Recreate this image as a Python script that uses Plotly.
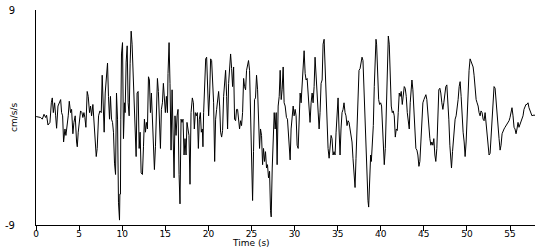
import plotly.graph_objects as go

# ---- data (time in s, acceleration in cm/s/s) ----
t1 = [0.02,0.54,0.73,0.93,1.12,1.23,1.39,1.62,1.78,1.89,2.01,2.16,2.28,2.39,2.55,2.70,2.86,2.97,3.09,3.20,3.36,3.47,3.63,3.74,3.86,4.01,4.13,4.28,4.40,4.55,4.71,4.79,4.90,5.06,5.17,5.33,5.44,5.56,5.67,5.79,5.94,6.06,6.21,6.33,6.45,6.60,6.72,6.83,6.99,7.10,7.26,7.41,7.57,7.68,7.80,7.91,8.03,8.18,8.30,8.41,8.53,8.64,8.76,8.88,8.99,9.11,9.23,9.34,9.46,9.57,9.69]
a1 = [0.08,0.0,-0.14,0.27,0.0,0.19,-0.63,-0.41,1.23,1.64,0.41,1.23,0.14,-0.9,0.96,1.23,1.5,0.41,0.14,-2.05,-0.96,-1.5,-0.68,0.14,1.36,0.41,0.68,-1.36,-0.41,0.14,-2.05,-2.45,-1.23,-0.27,0.55,0.41,0.0,0.41,0.0,-0.82,2.18,1.77,0.41,0.96,0.14,1.09,-0.41,-1.77,-3.27,-2.59,0.14,0.55,0.41,3.54,1.5,-1.23,2.05,3.68,4.56,1.77,-0.14,1.77,-0.14,-0.41,-1.23,-3.82,-4.77,2.05,-0.14,-7.09,-8.59]

t2 = [9.73,9.80,9.84,9.92,10.04,10.15,10.27,10.34,10.46,10.58,10.69,10.81,10.92,11.04,11.15,11.27,11.39,11.50,11.62,11.73,11.85,11.97,12.08,12.20,12.35,12.47,12.58,12.70,12.81,12.93,13.05,13.16,13.28,13.39,13.51,13.63,13.74,13.86,13.97,14.09,14.20,14.32,14.44,14.55,14.67,14.78,14.90,15.01,15.13,15.25,15.32,15.44,15.55,15.67,15.79,15.90,16.02,16.13,16.25,16.37,16.48,16.60,16.71,16.83,16.94,17.06,17.18,17.29,17.41,17.52,17.64,17.75,17.87,17.99,18.14,18.26,18.37,18.49,18.60,18.72,18.84,18.95,19.07,19.18,19.30,19.37]
a2 = [-6.41,-6.41,-0.14,5.32,6.27,-1.77,1.23,0.41,4.64,6.0,1.23,0.14,4.5,7.23,6.14,3.82,1.23,-1.77,-3.27,2.05,2.18,-2.59,-1.23,-4.64,-4.77,-2.45,-0.14,-1.23,-0.41,-0.96,3.41,3.14,0.41,2.05,0.14,-1.77,-4.36,-2.45,1.77,3.27,2.18,0.41,-2.59,0.68,1.23,2.86,1.23,0.41,1.77,0.41,3.68,6.27,2.86,-2.73,2.32,-2.86,-5.05,0.14,-1.5,0.14,0.68,-4.77,-7.23,-0.14,-0.41,-0.14,-3.14,-1.77,-3.14,-0.41,-0.96,-1.5,-5.59,0.41,1.64,1.23,-0.96,0.41,0.14,0.41,-2.59,-0.14,0.41,-1.23,-0.96,-2.45]

t3 = [19.45,19.57,19.69,19.80,19.92,20.03,20.15,20.26,20.38,20.50,20.61,20.73,20.84,20.96,21.07,21.19,21.31,21.42,21.54,21.65,21.77,21.88,22.00,22.12,22.23,22.35,22.46,22.58,22.70,22.81,22.93,23.04,23.16,23.27,23.39,23.51,23.62,23.74,23.85,23.97,24.09,24.20,24.32,24.43,24.55,24.66,24.78,24.90,25.01,25.13,25.24,25.36,25.47,25.59,25.71,25.82,25.94,26.05,26.17,26.29,26.40,26.52,26.63,26.75,26.86,26.98,27.10,27.21,27.29,27.41,27.52,27.64,27.75,27.87,27.98,28.10,28.22,28.33,28.45,28.56,28.68,28.79,28.91]
a3 = [0.41,2.86,4.91,5.05,2.59,0.14,2.05,4.91,4.77,2.05,1.23,-3.68,-0.14,0.68,1.23,2.18,0.96,-1.23,-1.64,-1.09,1.77,3.41,3.95,1.77,-0.96,2.86,4.5,5.32,4.09,2.59,4.23,-0.14,-0.27,0.68,0.68,-0.14,-0.96,-0.27,-0.68,0.41,3.27,2.59,2.32,3.95,4.36,4.77,3.95,0.41,-3.95,-6.95,-2.86,1.5,1.64,3.54,2.32,-0.96,-2.59,-0.96,-1.5,-3.95,-2.59,-3.68,-2.86,-4.23,-3.95,-5.05,-4.5,-7.77,-8.32,-4.23,-2.59,0.41,-0.96,0.41,-3.95,0.96,1.77,3.95,1.5,2.32,4.23,1.23,0.96]

t4 = [29.06,29.18,29.30,29.41,29.49,29.60,29.72,29.84,29.95,30.07,30.18,30.30,30.42,30.53,30.65,30.76,30.88,30.99,31.11,31.23,31.34,31.46,31.57,31.69,31.80,31.92,32.04,32.15,32.27,32.38,32.50,32.62,32.73,32.85,32.96,33.08,33.20,33.31,33.43,33.54,33.66,33.77,33.89,34.01,34.12,34.24,34.35,34.47,34.58,34.70,34.82,34.93,35.05,35.16,35.28,35.39,35.51,35.63,35.74,35.86,35.97,36.09,36.21,36.32,36.44,36.55,36.67,36.78,36.90,37.02,37.13,37.25,37.36,37.48,37.60,37.71,37.83,37.94,38.06,38.17,38.29,38.41,38.52,38.60,38.72,38.83]
a4 = [0.0,-0.14,-1.5,-2.32,-3.55,-0.96,0.41,0.96,0.14,0.68,0.14,-2.32,-2.59,0.14,2.05,1.23,2.86,4.5,5.59,3.68,3.14,3.27,2.32,0.68,-0.41,1.23,2.05,1.23,2.59,5.05,3.41,1.23,0.68,-0.96,0.41,2.86,3.14,6.14,6.55,3.95,1.5,-1.36,-2.59,-3.41,-2.59,-1.5,-1.77,-3.14,-2.86,-3.14,-1.23,0.96,1.64,-0.96,-3.14,-0.96,0.41,0.68,1.23,0.41,0.14,-0.68,-0.27,-0.41,-0.96,-1.5,-2.05,-3.41,-4.77,-5.86,-3.41,-0.96,1.77,3.95,4.09,4.5,5.05,4.77,2.32,-0.68,-2.32,-4.23,-6.95,-7.5,-4.23,-3.14]

t5 = [38.91,39.02,39.14,39.25,39.37,39.45,39.52,39.64,39.76,39.87,39.99,40.10,40.22,40.33,40.41,40.53,40.64,40.76,40.88,40.99,41.11,41.22,41.34,41.45,41.57,41.69,41.80,41.92,42.03,42.15,42.26,42.38,42.50,42.61,42.73,42.84,42.96,43.08,43.19,43.31,43.42,43.54,43.62,43.73,43.85,43.96,44.08,44.20,44.31,44.43,44.54,44.66,44.77,44.89,45.01,45.12,45.24,45.35,45.47,45.58,45.70,45.82,45.93,46.05,46.16,46.28,46.39,46.51,46.63,46.74,46.86,46.97,47.09,47.21,47.32,47.44,47.55,47.67,47.78,47.90,48.02,48.13,48.21,48.33,48.44,48.56]
a5 = [-3.68,-2.59,-0.68,2.59,5.05,6.55,6.14,3.95,1.5,1.09,1.23,0.96,-1.5,-3.68,-3.95,-2.59,0.41,3.95,6.82,6.14,3.95,0.96,0.41,0.55,0.14,-1.64,-0.96,-1.09,0.41,2.05,1.77,2.18,1.09,1.77,2.59,2.45,1.77,0.41,-0.14,-0.96,1.23,2.86,3.14,2.32,0.14,-1.77,-2.59,-2.73,-3.14,-4.09,-3.68,-2.05,-0.14,1.23,1.5,1.77,1.91,1.5,0.14,-0.68,-1.77,-2.32,-2.05,-2.32,-1.77,-3.14,-3.68,-2.59,0.14,2.32,2.45,2.05,1.23,0.68,1.23,2.32,2.59,2.73,1.5,-0.14,-2.32,-3.41,-4.23,-2.86,-1.5,-0.96]

t6 = [48.63,48.75,48.87,48.98,49.10,49.21,49.33,49.44,49.56,49.68,49.79,49.91,50.02,50.14,50.25,50.37,50.49,50.60,50.72,50.83,50.95,51.07,51.18,51.30,51.41,51.53,51.64,51.76,51.88,51.99,52.11,52.22,52.34,52.46,52.57,52.69,52.80,52.92,53.03,53.15,53.27,53.38,53.50,53.61,53.73,53.85,53.96,54.08,54.19,54.31,54.42,54.54,54.66,54.77,54.89,55.00,55.12,55.23,55.35,55.47,55.58,55.70,55.81,55.93,56.04,56.16,56.28,56.39,56.51,56.62,56.74,56.85,56.97,57.09,57.20,57.32,57.43,57.55,57.66,57.90]
a6 = [-0.14,0.14,0.68,1.5,2.59,3.0,1.77,-0.14,-1.23,-2.05,-3.27,-2.05,0.14,1.77,3.95,4.91,4.64,4.36,4.23,3.54,2.32,1.5,1.23,0.96,0.41,0.14,0.55,0.41,-0.14,-0.27,0.41,-0.41,-1.5,-2.45,-3.14,-3.0,-1.77,-0.14,1.23,2.59,2.45,1.23,0.41,-0.68,-1.77,-2.73,-2.32,-1.36,-1.09,-0.96,-0.82,-0.68,-0.55,-0.41,-0.27,0.0,0.41,0.82,0.14,-0.82,-0.96,-1.36,-0.96,-0.41,-0.82,-0.55,-0.41,-0.14,0.14,0.68,0.96,1.09,1.09,1.23,0.82,0.55,0.27,0.14,0.19,0.19]

x_ticks = [0, 5, 10, 15, 20, 25, 30, 35, 40, 45, 50, 55]
y_ticks = [-9, 9]
y_tick_labels = ["-9", "9"]
x_title = "Time (s)"
y_title = "cm/s/s"

t = t1 + t2 + t3 + t4 + t5 + t6
acc = a1 + a2 + a3 + a4 + a5 + a6

FONT = dict(family="DejaVu Sans", size=10, color="#000000")
TICK_FONT = dict(family="DejaVu Sans", size=9, color="#000000")
TITLE_FONT = dict(family="DejaVu Sans", size=9, color="#000000")

fig = go.Figure()
fig.add_trace(go.Scatter(x=t, y=acc, mode="lines",
                         line=dict(color="#000000", width=1),
                         hoverinfo="skip", showlegend=False))

fig.update_layout(
    width=550, height=250,
    margin=dict(l=35, r=15, t=5, b=25, pad=0),
    paper_bgcolor="#ffffff", plot_bgcolor="#ffffff",
    font=FONT,
    showlegend=False,
    xaxis=dict(range=[0, 57.9], tickvals=x_ticks, ticktext=[str(v) for v in x_ticks],
               showline=True, linecolor="#000000", linewidth=1,
               ticks="outside", ticklen=5, tickcolor="#000000", tickwidth=1,
               ticklabelstandoff=-5,
               showgrid=False, zeroline=False, tickfont=TICK_FONT),
    yaxis=dict(range=[-9, 9.0005], tickvals=y_ticks, ticktext=y_tick_labels,
               showline=True, linecolor="#000000", linewidth=1,
               ticks="", showgrid=False, zeroline=False,
               ticklabelstandoff=18, ticklabeloverflow="allow", tickfont=FONT),
    annotations=[
        dict(text=x_title, xref="paper", yref="paper", x=0.43, y=-0.1136,
             xanchor="center", yanchor="bottom", showarrow=False,
             borderpad=0, font=TITLE_FONT),
        dict(text=y_title, xref="paper", yref="paper", x=-0.045, y=0.5,
             xanchor="center", yanchor="middle", textangle=-90,
             showarrow=False, font=TITLE_FONT),
    ],
)

fig.write_html("out.html")
